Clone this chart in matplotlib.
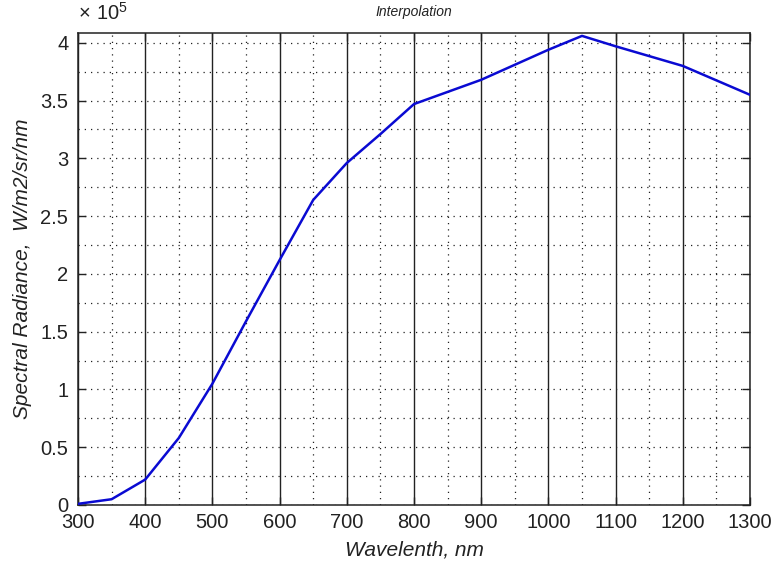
import numpy as np
import matplotlib
matplotlib.use('Agg')
from matplotlib import pyplot as plt
from matplotlib.ticker import MultipleLocator, FuncFormatter

# spectral radiance, W/m2/sr/nm
wavelength = [300, 350, 400, 450, 500, 550, 600, 650, 700, 750, 800,
              900, 1000, 1050, 1100, 1200, 1300]
radiance = [0.01e5, 0.05e5, 0.22e5, 0.58e5, 1.05e5, 1.59e5, 2.12e5, 2.64e5,
            2.96e5, 3.21e5, 3.47e5, 3.68e5, 3.94e5, 4.06e5, 3.97e5, 3.80e5,
            3.55e5]

plt.rcParams['font.family'] = ['Liberation Sans', 'DejaVu Sans']
plt.rcParams['mathtext.fontset'] = 'custom'
plt.rcParams['mathtext.rm'] = 'Liberation Sans'

txt = '#222222'

fig = plt.figure(figsize=(7.76, 5.68), dpi=100)
ax = fig.add_axes([78/776, 1 - 505/568, 672/776, 472/568])

ax.plot(wavelength, radiance, color='#0a0ad2', lw=1.8, zorder=3)

ax.set_xlim(300, 1300)
ax.set_ylim(0, 4.085e5)

ax.xaxis.set_major_locator(MultipleLocator(100))
ax.xaxis.set_minor_locator(MultipleLocator(50))
ax.yaxis.set_major_locator(MultipleLocator(0.5e5))
ax.yaxis.set_minor_locator(MultipleLocator(0.25e5))
ax.yaxis.set_major_formatter(FuncFormatter(lambda v, p: '%g' % (v / 1e5)))

# grid: solid verticals at every 100 nm, dotted elsewhere
ax.xaxis.grid(True, which='major', color='#222222', ls='-', lw=1.0)
ax.xaxis.grid(True, which='minor', color='#222222', ls=(0, (1, 4)), lw=0.9)
ax.yaxis.grid(True, which='both', color='#222222', ls=(0, (1, 4)), lw=0.9)
ax.set_axisbelow(True)

ax.tick_params(which='major', direction='in', length=6, width=1.0,
               top=True, right=True, labelsize=14.5, colors=txt, pad=6)
ax.tick_params(axis='y', which='major', pad=7)
ax.tick_params(which='minor', length=0)
for s in ax.spines.values():
    s.set_linewidth(1.1)
    s.set_color('#222222')

ax.set_xlabel('Wavelenth, nm', fontsize=15, style='italic', color=txt, labelpad=6)
ax.set_ylabel('Spectral Radiance,  W/m2/sr/nm', fontsize=15, style='italic',
              color=txt, labelpad=6)
ax.set_title('Interpolation', fontsize=10, style='italic', color=txt, pad=12)
ax.text(0.0, 1.02, r'$\times\ 10^{5}$', transform=ax.transAxes,
        fontsize=14.5, color=txt, ha='left', va='bottom')

fig.savefig('out.png', dpi=100)
